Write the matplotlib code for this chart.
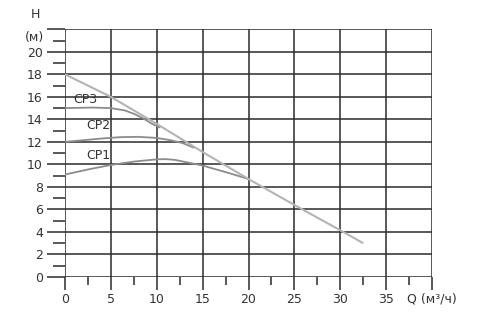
import numpy as np
import matplotlib.pyplot as plt
from matplotlib.ticker import MultipleLocator

# pump curves
q_sys = [0, 5, 10, 15, 20, 25, 30, 32.4]
h_sys = [18, 16, 13.6, 11.1, 8.7, 6.4, 4.15, 3.05]

q_cp3 = [0, 3, 5, 6.5, 7.5, 8.5, 9.5, 10.3]
h_cp3 = [15, 15.05, 15.0, 14.8, 14.5, 14.1, 13.6, 13.3]

q_cp2 = [0, 2, 4, 6, 8, 10, 11.5, 12.8, 14]
h_cp2 = [12, 12.15, 12.3, 12.42, 12.45, 12.35, 12.15, 11.9, 11.5]

q_cp1 = [0, 2.5, 5, 7.5, 10, 11, 12, 13.5, 15, 16.5, 18, 20]
h_cp1 = [9.1, 9.55, 9.95, 10.25, 10.45, 10.47, 10.4, 10.15, 9.9, 9.55, 9.2, 8.7]

x_ticks = [0, 5, 10, 15, 20, 25, 30, 35, 40]
x_labels = ['0', '5', '10', '15', '20', '25', '30', '35', 'Q (м³/ч)']
y_ticks = [0, 2, 4, 6, 8, 10, 12, 14, 16, 18, 20, 22]
y_labels = ['0', '2', '4', '6', '8', '10', '12', '14', '16', '18', '20', '']

plt.rcParams['font.family'] = 'DejaVu Sans'
plt.rcParams['font.size'] = 9

fig = plt.figure(figsize=(4.87, 3.14), dpi=100)
ax = fig.add_axes([65/487, 1-277/314, (432-65)/487, (277-29.3)/314])

grid_c = '#2b2b2b'
for y in y_ticks:
    ax.axhline(y, color=grid_c, lw=1.1, zorder=1)
for x in x_ticks:
    ax.axvline(x, color=grid_c, lw=1.1, zorder=1)

ax.plot(q_cp1, h_cp1, color='#8c8c8c', lw=1.3, zorder=3)
ax.plot(q_cp2, h_cp2, color='#8c8c8c', lw=1.3, zorder=3)
ax.plot(q_cp3, h_cp3, color='#8c8c8c', lw=1.3, zorder=3)
ax.plot(q_sys, h_sys, color='#b4b4b4', lw=1.5, zorder=4)

ax.text(2.2, 15.2, 'CP3', ha='center', va='bottom', color='#333333')
ax.text(3.6, 12.9, 'CP2', ha='center', va='bottom', color='#333333')
ax.text(3.65, 10.2, 'CP1', ha='center', va='bottom', color='#333333')

ax.set_xlim(0, 40)
ax.set_ylim(0, 22)
for s in ax.spines.values():
    s.set_visible(False)

ax.set_xticks(x_ticks)
ax.set_xticklabels(x_labels)
ax.set_yticks(y_ticks)
ax.set_yticklabels(y_labels)
ax.xaxis.set_minor_locator(MultipleLocator(2.5))
ax.yaxis.set_minor_locator(MultipleLocator(1))
ax.tick_params(axis='y', which='major', length=13, width=1.1, color=grid_c, pad=3, labelcolor='#333333')
ax.tick_params(axis='y', which='minor', length=8.6, width=1.1, color=grid_c)
ax.tick_params(axis='x', which='major', length=9.4, width=1.1, color=grid_c, pad=2, labelcolor='#333333')
ax.tick_params(axis='x', which='minor', length=5.8, width=1.1, color=grid_c)

fig.text(35/487, 1-15/314, 'H', ha='center', va='center', color='#333333')
fig.text(35/487, 1-37/314, '(м)', ha='center', va='center', color='#333333')

fig.savefig('out.png', dpi=100)
